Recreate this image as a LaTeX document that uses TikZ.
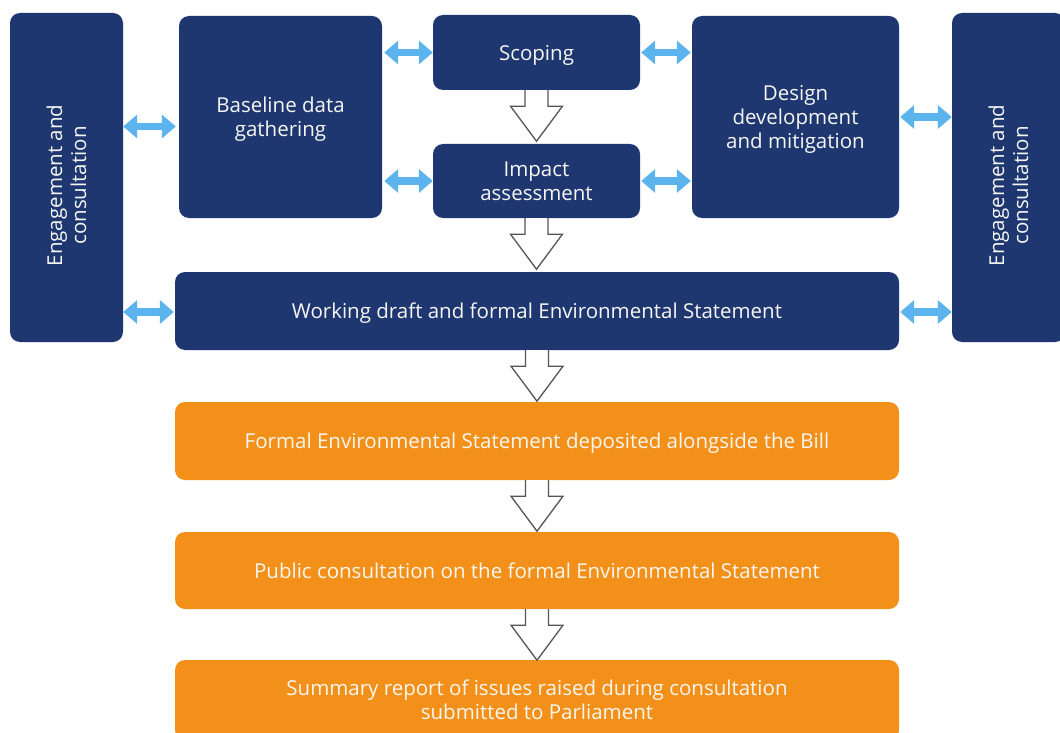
\documentclass[tikz,border=0pt]{standalone}
\usepackage{fontspec}
\setmainfont{Open Sans}
\usetikzlibrary{arrows.meta}
\definecolor{navy}{HTML}{1F3771}
\definecolor{orng}{HTML}{F39019}
\definecolor{lblue}{HTML}{5BB4EE}
\definecolor{agray}{HTML}{555555}
\definecolor{txtc}{HTML}{F7F7F2}
\tikzset{
  box/.style={rectangle, rounded corners=10pt, inner sep=0pt, text=txtc, align=center,
    text depth=0pt, font=\fontsize{20.5}{24}\selectfont},
  navybox/.style={box, fill=navy},
  orangebox/.style={box, fill=orng},
  sidetext/.style={rotate=90, text=txtc, align=center, xshift=-8pt, font=\fontsize{20.5}{24}\selectfont},
  dbl/.style={lblue, line width=7.5pt, {Triangle[length=14pt,width=23pt]}-{Triangle[length=14pt,width=23pt]}},
  blk/.style={draw=agray, fill=white, line width=1.3pt, line join=miter}
}
\newcommand{\blockarrow}[1]{%
  \draw[blk] (#1.south) ++(-11.5,0) -- ++(0,16) -- ++(-14.5,0) -- ++(26,35) -- ++(26,-35) -- ++(-14.5,0) -- ++(0,-16);}
\begin{document}
\begin{tikzpicture}[x=1pt,y=-1pt]
\clip (0,0) rectangle (1060,733);
\fill[white] (0,0) rectangle (1060,733);
% side boxes
\node[navybox, minimum width=113pt, minimum height=329pt,
  label={[sidetext]center:Engagement and\\consultation}] (engL) at (66.5,177.5) {};
\node[navybox, minimum width=113pt, minimum height=329pt,
  label={[sidetext]center:Engagement and\\consultation}] (engR) at (1008.5,177.5) {};
% top boxes
\node[navybox, minimum width=203pt, minimum height=202pt] (base) at (280.5,117) {Baseline data\\gathering};
\node[navybox, minimum width=207pt, minimum height=75pt] (scop) at (536.5,52.5) {Scoping};
\node[navybox, minimum width=207pt, minimum height=74pt] (imp) at (536.5,181) {Impact\\assessment};
\node[navybox, minimum width=207pt, minimum height=202pt] (des) at (795.5,117) {Design\\development\\and mitigation};
% wide boxes
\node[navybox, minimum width=724pt, minimum height=78pt] (work) at (537,311) {Working draft and formal Environmental Statement};
\node[orangebox, minimum width=724pt, minimum height=78pt] (formal) at (537,441) {Formal Environmental Statement deposited alongside the Bill};
\node[orangebox, minimum width=724pt, minimum height=77pt] (public) at (537,570.5) {Public consultation on the formal Environmental Statement};
\node[orangebox, minimum width=724pt, minimum height=80pt] (summ) at (537,700) {Summary report of issues raised during consultation\\submitted to Parliament};
% double arrows
\draw[dbl] (engL.east |- 0,126.5) -- ([xshift=-3pt]base.west |- 0,126.5);
\draw[dbl] (engL.east |- 0,312) -- ([xshift=-1pt]work.west |- 0,312);
\draw[dbl] ([xshift=2pt]base.east |- scop.west) -- (scop.west);
\draw[dbl] ([xshift=2pt]base.east |- imp.west) -- (imp.west);
\draw[dbl] ([xshift=1pt]scop.east) -- ([xshift=-1pt]des.west |- scop.east);
\draw[dbl] ([xshift=1pt]imp.east) -- ([xshift=-1pt]des.west |- imp.east);
\draw[dbl] ([xshift=1pt]des.east |- 0,117) -- (engR.west |- 0,117);
\draw[dbl] ([xshift=1pt]work.east |- 0,312) -- (engR.west |- 0,312);
% block arrows
\blockarrow{scop}
\blockarrow{imp}
\blockarrow{work}
\blockarrow{formal}
\blockarrow{public}
\end{tikzpicture}
\end{document}
